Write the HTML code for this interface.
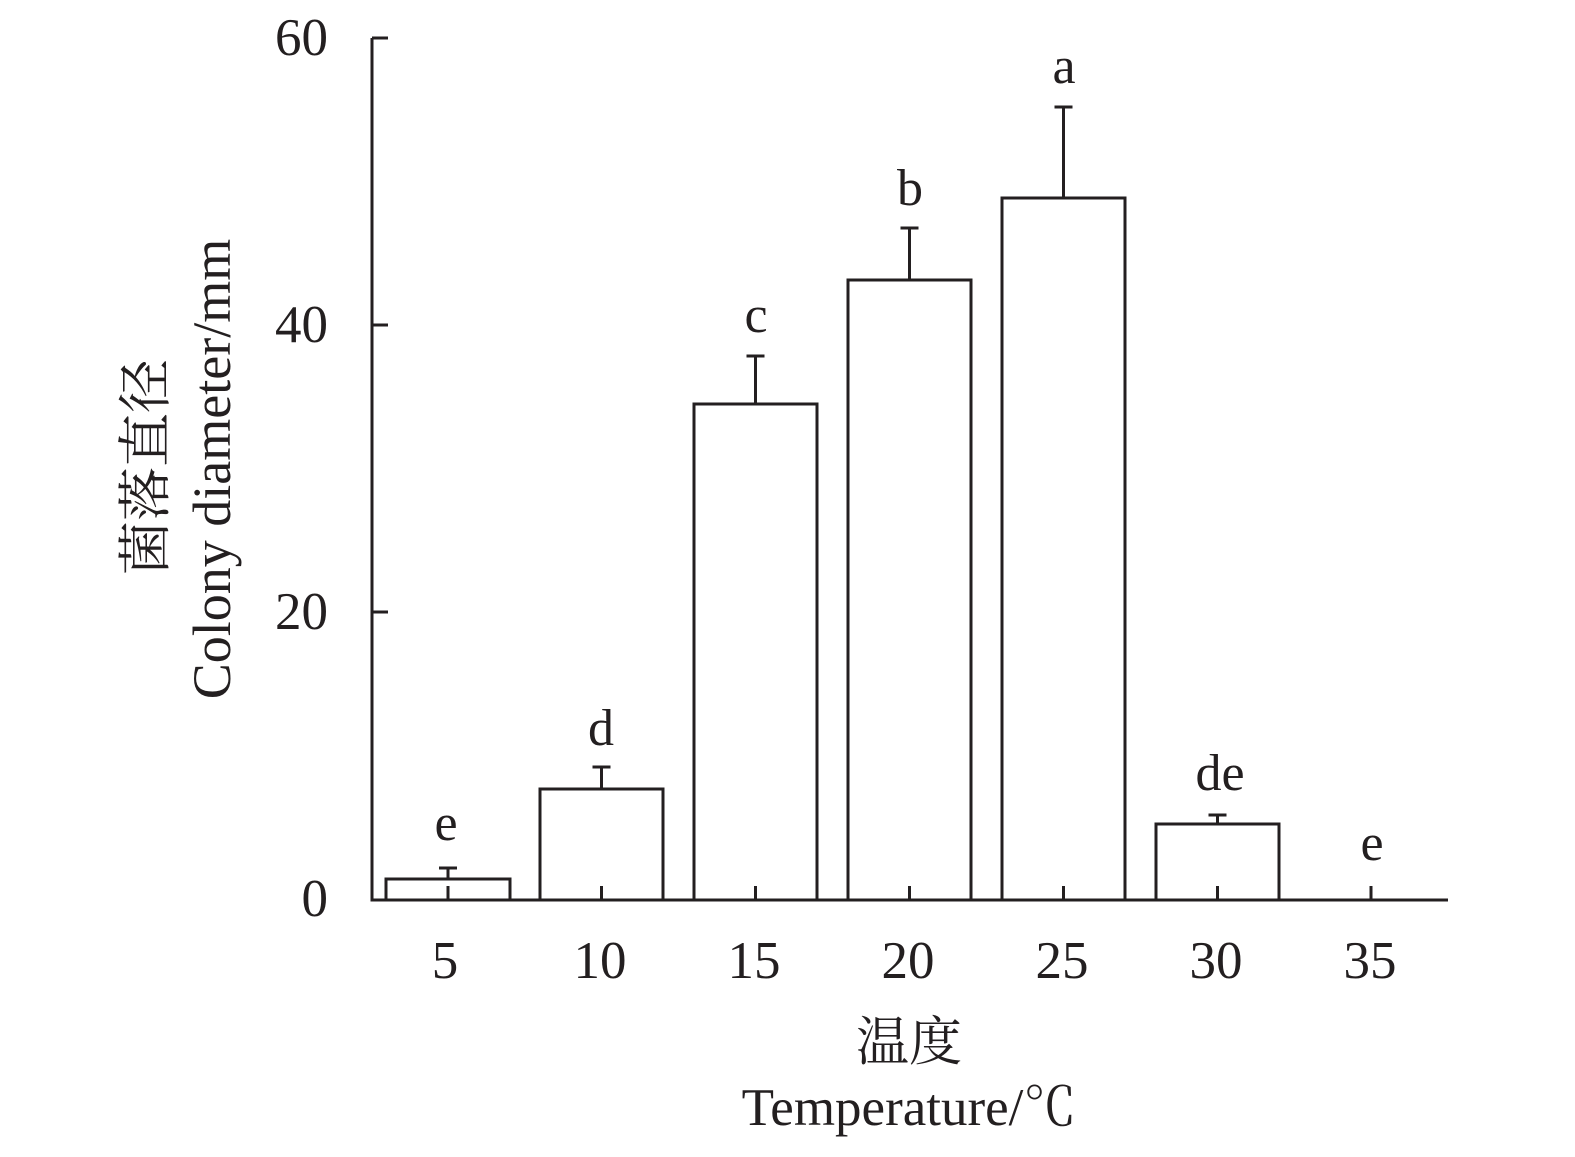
<!DOCTYPE html>
<html><head><meta charset="utf-8"><style>
html,body{margin:0;padding:0;background:#fff;}
text{font-family:"Liberation Serif","Noto Serif CJK SC",serif;fill:#231f20;}
</style></head><body>
<svg width="1575" height="1152" viewBox="0 0 1575 1152" xmlns="http://www.w3.org/2000/svg">
<g stroke="#231f20" stroke-width="3" fill="none">
<polyline points="372,38 372,900 1448,900"/>
<line x1="372" y1="38" x2="388" y2="38"/>
<line x1="372" y1="325" x2="388" y2="325"/>
<line x1="372" y1="612" x2="388" y2="612"/>
<rect x="386" y="879" width="124" height="21" fill="#fff"/>
<rect x="540" y="789" width="123" height="111" fill="#fff"/>
<rect x="694" y="404" width="123" height="496" fill="#fff"/>
<rect x="848" y="280" width="123" height="620" fill="#fff"/>
<rect x="1002" y="198" width="123" height="702" fill="#fff"/>
<rect x="1156" y="824" width="123" height="76" fill="#fff"/>
<line x1="448" y1="886" x2="448" y2="900"/>
<line x1="601.5" y1="886" x2="601.5" y2="900"/>
<line x1="755.5" y1="886" x2="755.5" y2="900"/>
<line x1="909.5" y1="886" x2="909.5" y2="900"/>
<line x1="1063.5" y1="886" x2="1063.5" y2="900"/>
<line x1="1217.5" y1="886" x2="1217.5" y2="900"/>
<line x1="1371" y1="886" x2="1371" y2="900"/>
<path d="M448 879V868M439 868H457"/>
<path d="M601.5 789V767M592.5 767H610.5"/>
<path d="M755.5 404V356M746.5 356H764.5"/>
<path d="M909.5 280V228M900.5 228H918.5"/>
<path d="M1063.5 198V107M1054.5 107H1072.5"/>
<path d="M1217.5 824V815M1208.5 815H1226.5"/>
</g>
<g font-size="53" text-anchor="end">
<text x="328" y="55">60</text>
<text x="328" y="342">40</text>
<text x="328" y="629">20</text>
<text x="328" y="916">0</text>
</g>
<g font-size="53" text-anchor="middle">
<text x="445" y="978">5</text>
<text x="600" y="978">10</text>
<text x="754" y="978">15</text>
<text x="908" y="978">20</text>
<text x="1062" y="978">25</text>
<text x="1216" y="978">30</text>
<text x="1370" y="978">35</text>
</g>
<g font-size="52" text-anchor="middle">
<text x="446" y="840">e</text>
<text x="601" y="745">d</text>
<text x="756" y="332">c</text>
<text x="910" y="205">b</text>
<text x="1064" y="83">a</text>
<text x="1220" y="790">de</text>
<text x="1372" y="860">e</text>
</g>
<text x="909" y="1060" font-size="53" text-anchor="middle">温度</text>
<text x="909" y="1125" font-size="53" text-anchor="middle">Temperature/℃</text>
<text transform="translate(164,467) rotate(-90)" font-size="54" text-anchor="middle">菌落直径</text>
<text transform="translate(230,469) rotate(-90)" font-size="54" text-anchor="middle">Colony diameter/mm</text>
</svg>
</body></html>
